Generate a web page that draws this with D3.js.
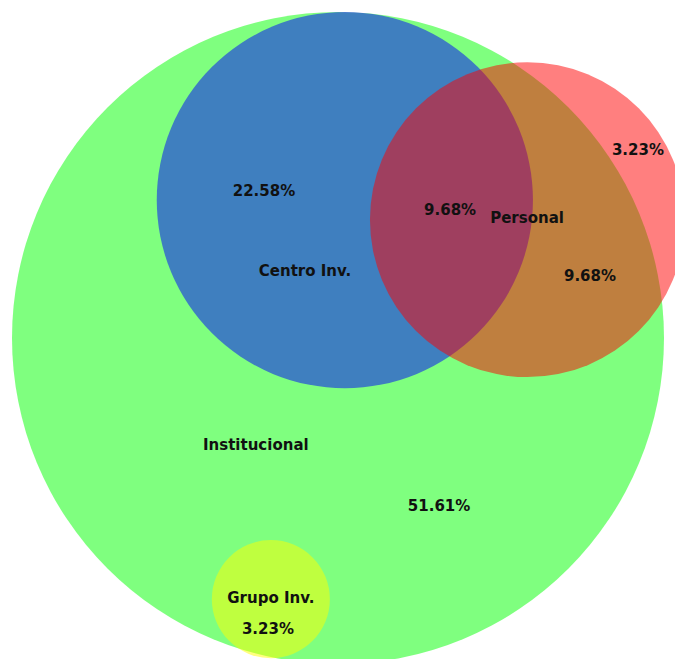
<!DOCTYPE html>
<html>
<head>
<meta charset="utf-8">
<script src="https://cdn.jsdelivr.net/npm/d3@7"></script>
<style>
  body { margin: 0; background: #fff; }
  svg { display: block; }
</style>
</head>
<body>
<div id="venn"></div>
<script>
// sets, in layout units (outer set radius = 1)
var setNames = ['Institucional', 'Centro Inv.', 'Personal', 'Grupo Inv.'];
var setColors = ['#00ff00', '#0000ff', '#ff0000', '#ffff00'];
var setX = [0, 0.021, 0.581, -0.206];
var setY = [0, -0.423, -0.363, 0.801];
var setR = [1, 0.577, 0.483, 0.181];

// set name labels
var nameX = [-0.252, -0.101, 0.580, -0.206];
var nameY = [0.328, -0.206, -0.368, 0.798];

// region percentages
var regionText = ['51.61%', '22.58%', '9.68%', '9.68%', '3.23%', '3.23%'];
var regionX = [0.310, -0.227, 0.344, 0.773, 0.920, -0.215];
var regionY = [0.515, -0.451, -0.393, -0.190, -0.577, 0.893];

var width = 675, height = 659;

var x = d3.scaleLinear().domain([-1, 1]).range([12, 664]);
var y = d3.scaleLinear().domain([-1, 1]).range([12, 664]);
var r = d3.scaleLinear().domain([0, 1]).range([0, 326]);

var svg = d3.select('#venn')
    .append('svg')
    .attr('width', width)
    .attr('height', height)

var sets = setNames.map(function(d, i){
    return {name: d, color: setColors[i], x: setX[i], y: setY[i], r: setR[i]}
})

svg.selectAll('circle')
    .data(sets)
    .enter()
    .append('circle')
    .attr('cx', function(d){return x(d.x)})
    .attr('cy', function(d){return y(d.y)})
    .attr('r', function(d){return r(d.r)})
    .style('fill', function(d){return d.color})
    .style('fill-opacity', 0.5)

var labels = setNames.map(function(d, i){return {t: d, x: nameX[i], y: nameY[i]}})
    .concat(regionText.map(function(d, i){return {t: d, x: regionX[i], y: regionY[i]}}))

svg.selectAll('text')
    .data(labels)
    .enter()
    .append('text')
    .attr('x', function(d){return x(d.x)})
    .attr('y', function(d){return y(d.y)})
    .attr('dy', '0.35em')
    .attr('text-anchor', 'middle')
    .style('font-family', 'Verdana, "DejaVu Sans", sans-serif')
    .style('font-weight', 'bold')
    .style('font-size', '15px')
    .style('fill', '#111')
    .text(function(d){return d.t})
</script>
</body>
</html>
